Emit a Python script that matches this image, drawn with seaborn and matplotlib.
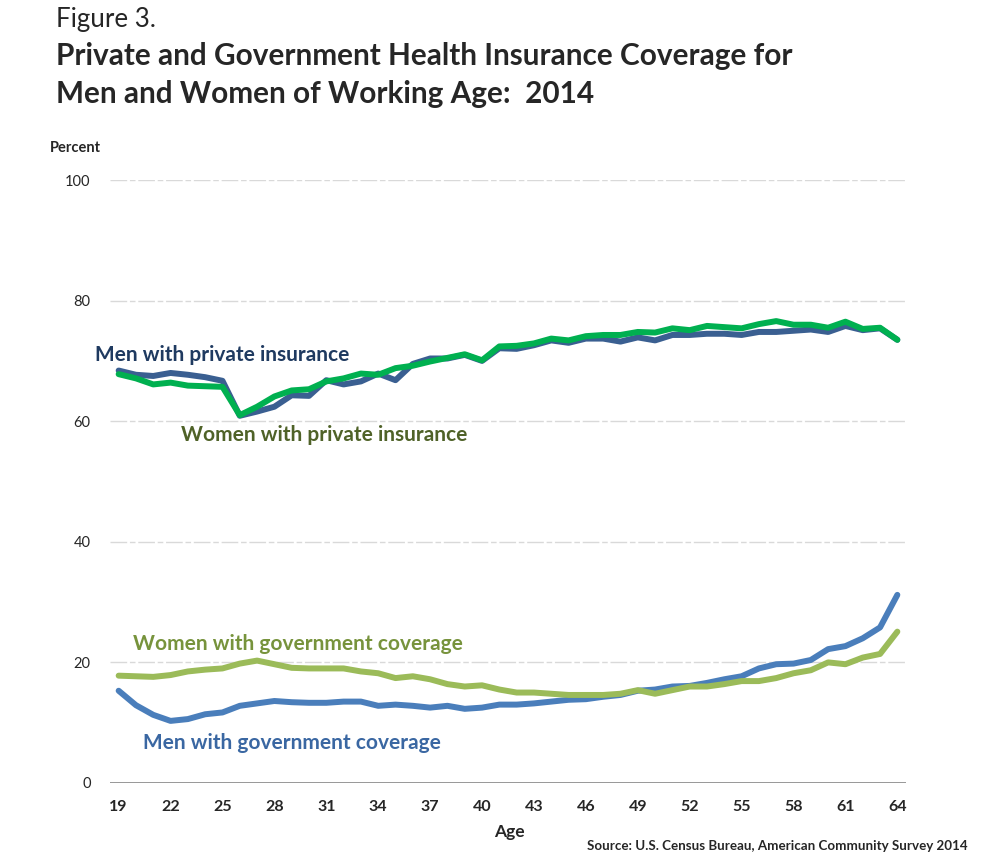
import numpy as np
import pandas as pd
import seaborn as sns
import matplotlib.pyplot as plt

ages = list(range(19, 65))

men_private = [68.4, 67.7, 67.5, 68.0, 67.7, 67.3, 66.7, 60.9, 61.6, 62.4, 64.3, 64.2,
               66.8, 66.1, 66.6, 67.9, 66.8, 69.5, 70.4, 70.4, 71.0, 70.0,
               72.1, 72.0, 72.6, 73.4, 73.0, 73.7, 73.7, 73.2, 73.9, 73.4, 74.3, 74.3,
               74.5, 74.5, 74.3, 74.8, 74.8, 75.0, 75.2, 74.8, 75.8, 75.1, 75.4, 73.5]
women_private = [67.8, 67.1, 66.1, 66.4, 65.9, 65.8, 65.7, 61.0, 62.4, 64.1, 65.1, 65.3,
                 66.6, 67.1, 67.9, 67.7, 68.8, 69.2, 69.9, 70.5, 71.1, 70.1,
                 72.4, 72.5, 72.9, 73.7, 73.4, 74.1, 74.3, 74.3, 74.8, 74.7, 75.4, 75.1,
                 75.8, 75.6, 75.4, 76.1, 76.6, 76.0, 76.0, 75.5, 76.5, 75.3, 75.5, 73.5]
women_gov = [17.8, 17.7, 17.6, 17.9, 18.5, 18.8, 19.0, 19.8, 20.3, 19.7, 19.1, 19.0,
             19.0, 19.0, 18.5, 18.2, 17.4, 17.7, 17.2, 16.4, 16.0, 16.2, 15.5, 15.0,
             15.0, 14.8, 14.6, 14.6, 14.6, 14.8, 15.4, 14.8, 15.4, 16.0, 16.0, 16.4,
             16.9, 16.9, 17.4, 18.2, 18.7, 20.0, 19.7, 20.8, 21.4, 25.1]
men_gov = [15.3, 12.9, 11.3, 10.3, 10.6, 11.4, 11.7, 12.8, 13.2, 13.6, 13.4, 13.3,
           13.3, 13.5, 13.5, 12.8, 13.0, 12.8, 12.5, 12.8, 12.3, 12.5, 13.0, 13.0,
           13.2, 13.5, 13.8, 13.9, 14.3, 14.6, 15.3, 15.5, 16.0, 16.1, 16.6, 17.2,
           17.7, 19.0, 19.7, 19.8, 20.4, 22.2, 22.7, 24.0, 25.8, 31.2]

series_names = ["Men with private insurance", "Women with private insurance",
                "Men with government coverage", "Women with government coverage"]
x_ticks = list(range(19, 65, 3))
y_ticks = [0, 20, 40, 60, 80, 100]

line_colors = {
    "Men with private insurance": "#3A5F91",
    "Women with private insurance": "#00B050",
    "Men with government coverage": "#4A7EBB",
    "Women with government coverage": "#9BBB59",
}
label_colors = {
    "Men with private insurance": "#1F3A60",
    "Women with private insurance": "#4F6228",
    "Men with government coverage": "#3A67A2",
    "Women with government coverage": "#77933C",
}

df = pd.DataFrame({
    "Age": ages * 4,
    "Percent": men_private + women_private + men_gov + women_gov,
    "Series": [s for s in series_names for _ in ages],
})

sns.set_style("white")
plt.rcParams["font.family"] = ["Lato", "DejaVu Sans"]

W, H = 992, 860
fig = plt.figure(figsize=(W / 100, H / 100), dpi=100)
ax = fig.add_axes([110 / W, 1 - 783 / H, 796 / W, 603 / H])

def px(x, y):
    return x / W, 1 - y / H

# gridlines
for yv in y_ticks[1:]:
    ax.axhline(yv, color="#D9D9D9", lw=1, dashes=(12, 2, 4, 2), zorder=0)
ax.axhline(0, color="#868686", lw=1.2, zorder=1)

sns.lineplot(data=df, x="Age", y="Percent", hue="Series", hue_order=series_names,
             palette=line_colors, lw=4.3, legend=False, ax=ax,
             solid_capstyle="round", solid_joinstyle="round")

ax.set_xlim(18.5, 64.5)
ax.set_ylim(0, 100)
ax.set_xticks(x_ticks)
ax.set_yticks(y_ticks)
ax.set_xticklabels([str(t) for t in x_ticks], fontsize=11.5, fontweight="bold")
ax.set_yticklabels([str(t) for t in y_ticks], fontsize=10.5)
ax.tick_params(axis="both", length=0)
ax.tick_params(axis="y", pad=14)
ax.tick_params(axis="x", pad=12)
ax.set_xlabel("")
ax.set_ylabel("")
for sp in ax.spines.values():
    sp.set_visible(False)

# titles
fig.text(*px(56, 27), "Figure 3.", fontsize=18.6, va="baseline", ha="left")
fig.text(*px(56, 65), "Private and Government Health Insurance Coverage for",
         fontsize=21.4, fontweight="bold", va="baseline", ha="left")
fig.text(*px(56, 103), "Men and Women of Working Age:  2014",
         fontsize=21.4, fontweight="bold", va="baseline", ha="left")
fig.text(*px(50, 148), "Percent", fontsize=10.5, fontweight="bold", va="center", ha="left")
fig.text(*px(509, 832), "Age", fontsize=12.5, fontweight="bold", va="center", ha="center")
fig.text(*px(968, 846), "Source: U.S. Census Bureau, American Community Survey 2014",
         fontsize=9.6, fontweight="bold", va="center", ha="right")

# series labels
label_pos = {
    "Men with private insurance": (95, 355),
    "Women with private insurance": (181, 435),
    "Women with government coverage": (133, 644),
    "Men with government coverage": (143, 743),
}
for name, (lx, ly) in label_pos.items():
    fig.text(*px(lx, ly), name, fontsize=15, fontweight="bold",
             color=label_colors[name], va="center", ha="left")

fig.savefig("out.png", dpi=100)
